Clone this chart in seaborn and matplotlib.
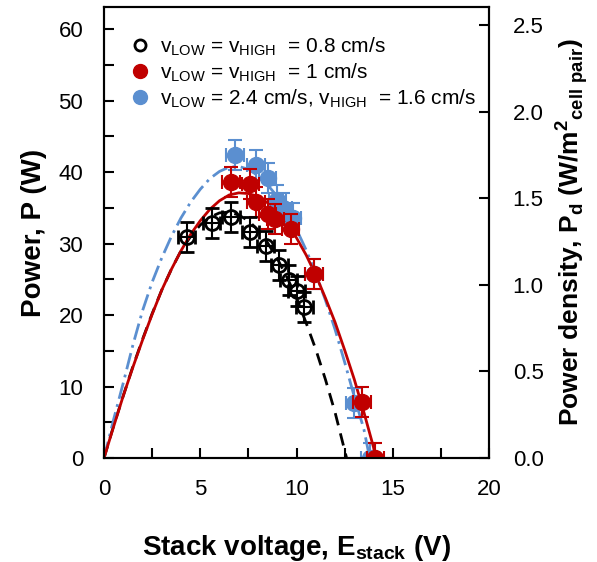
import numpy as np
import pandas as pd
import seaborn as sns
import matplotlib
matplotlib.use("Agg")
from matplotlib import pyplot as plt
from matplotlib.ticker import MultipleLocator, FormatStrFormatter
from matplotlib.lines import Line2D

# measured points (E_stack V, P W)
e_08 = [4.3, 5.6, 6.6, 7.6, 8.4, 9.1, 9.6, 10.0, 10.4]
p_08 = [30.9, 32.9, 33.7, 31.6, 29.6, 27.0, 24.9, 23.4, 21.1]
e_10 = [6.6, 7.6, 7.9, 8.5, 8.9, 9.7, 10.9, 13.4, 14.1]
p_10 = [38.6, 38.4, 35.8, 34.2, 33.4, 32.0, 25.8, 7.8, 0.0]
e_24 = [6.8, 7.9, 8.5, 9.0, 9.3, 9.8, 10.9, 13.0, 13.8]
p_24 = [42.4, 41.0, 39.2, 36.1, 35.0, 33.6, 25.7, 7.7, 0.0]
xerr = 0.45
yerr = 2.1

# fitted curves
fe_08 = [0, 0.5, 1, 1.5, 2, 2.5, 3, 3.5, 4, 4.5, 5, 5.5, 6, 6.5, 7, 7.5, 8,
         8.5, 9, 9.5, 10, 10.5, 11, 11.5, 12, 12.6]
fp_08 = [0, 4.5, 8.7, 12.8, 16.6, 20.2, 23.5, 26.4, 29.0, 31.0, 32.6, 33.7,
         34.3, 34.4, 34.0, 33.2, 31.9, 30.1, 27.9, 25.3, 22.4, 18.9, 15.2,
         11.0, 6.4, 0]
fe_10 = [0, 0.5, 1, 1.5, 2, 2.5, 3, 3.5, 4, 4.5, 5, 5.5, 6, 6.5, 7, 7.5, 8,
         8.5, 9, 9.5, 10, 10.5, 11, 11.5, 12, 12.5, 13, 13.5, 14, 14.1]
fp_10 = [0, 4.4, 8.7, 12.7, 16.5, 20.1, 23.5, 26.4, 29.0, 31.3, 33.2, 34.8,
         36.0, 36.8, 37.1, 37.0, 36.6, 35.7, 34.5, 32.8, 30.8, 28.4, 25.6,
         22.4, 19.0, 15.1, 11.0, 6.4, 1.5, 0]
fe_24 = [0, 0.5, 1, 1.5, 2, 2.5, 3, 3.5, 4, 4.5, 5, 5.5, 6, 6.5, 7, 7.5, 8,
         8.5, 9, 9.5, 10, 10.5, 11, 11.5, 12, 12.5, 13, 13.5, 13.8]
fp_24 = [0, 5.4, 10.5, 15.8, 20.6, 24.6, 28.0, 31.0, 33.6, 35.8, 37.6, 39.1,
         40.1, 40.7, 40.8, 40.4, 39.5, 38.2, 36.6, 34.5, 32.0, 29.1, 25.8,
         22.1, 18.0, 13.4, 8.6, 4.0, 0]

labels = [r"v$_\mathregular{LOW}$ = v$_\mathregular{HIGH}$  = 0.8 cm/s",
          r"v$_\mathregular{LOW}$ = v$_\mathregular{HIGH}$  = 1 cm/s",
          r"v$_\mathregular{LOW}$ = 2.4 cm/s, v$_\mathregular{HIGH}$  = 1.6 cm/s"]
red = "#c00000"
blue = "#5b8fd0"

sns.set_style("ticks")
plt.rcParams["font.family"] = ["Liberation Sans", "DejaVu Sans"]
plt.rcParams["mathtext.fontset"] = "custom"
plt.rcParams["mathtext.rm"] = "Liberation Sans"
plt.rcParams["mathtext.bf"] = "Liberation Sans:bold"
for k in ["text.color", "axes.labelcolor", "xtick.color", "ytick.color", "axes.edgecolor"]:
    plt.rcParams[k] = "black"

fig = plt.figure(figsize=(5.97, 5.62), dpi=100)
ax = fig.add_axes([0.1742, 0.185, 0.645, 0.8025])

curves = pd.concat([
    pd.DataFrame({"E": fe_08, "P": fp_08, "s": "a"}),
    pd.DataFrame({"E": fe_10, "P": fp_10, "s": "b"}),
    pd.DataFrame({"E": fe_24, "P": fp_24, "s": "c"}),
])
for s, col, ls in [("a", "black", (0, (4.5, 3))), ("c", blue, (0, (6, 2, 1, 2))), ("b", red, "-")]:
    d = curves[curves.s == s]
    sns.lineplot(data=d, x="E", y="P", ax=ax, color=col, lw=2, linestyle=ls,
                 estimator=None, sort=False, zorder=3)

ax.errorbar(e_24, p_24, xerr=xerr, yerr=yerr, fmt="o", ms=11.5, color=blue,
            ecolor=blue, elinewidth=1.5, capsize=5, capthick=1.5, zorder=4)
ax.errorbar(e_10, p_10, xerr=xerr, yerr=yerr, fmt="o", ms=11.5, color=red,
            ecolor=red, elinewidth=1.5, capsize=5, capthick=1.5, zorder=5)
ax.errorbar(e_08, p_08, xerr=xerr, yerr=yerr, fmt="o", ms=10, mfc="none",
            mec="black", mew=2, ecolor="black", elinewidth=1.5, capsize=5,
            capthick=1.5, zorder=6)

ax.set_xlim(0, 20)
ax.set_ylim(0, 63.1)
ax.xaxis.set_major_locator(MultipleLocator(5))
ax.xaxis.set_minor_locator(MultipleLocator(2.5))
ax.yaxis.set_major_locator(MultipleLocator(10))
ax.yaxis.set_minor_locator(MultipleLocator(5))
ax.tick_params(which="both", direction="in", width=1.5, length=7, labelsize=16,
               pad=15, right=False, top=False)
for sp in ax.spines.values():
    sp.set_linewidth(1.5)
ax.set_xlabel(r"Stack voltage, E$_\mathbf{stack}$ (V)", fontsize=20,
              fontweight="bold", labelpad=24)
ax.set_ylabel("Power, P (W)", fontsize=20, fontweight="bold", labelpad=8)

ax2 = ax.twinx()
ax2.set_ylim(0, 2.604)
ax2.yaxis.set_major_locator(MultipleLocator(0.5))
ax2.yaxis.set_major_formatter(FormatStrFormatter("%.1f"))
ax2.tick_params(direction="in", length=7, width=1.5, labelsize=16, pad=17)
ax2.set_ylabel(r"Power density, P$_\mathbf{d}$ (W/m$^\mathbf{2}$$_\mathregular{cell\ pair}$)",
               fontsize=19, fontweight="bold", labelpad=7)
for sp in ax2.spines.values():
    sp.set_linewidth(1.5)

handles = [
    Line2D([], [], ls="none", marker="o", ms=8, mfc="none", mec="black", mew=2),
    Line2D([], [], ls="none", marker="o", ms=10, color=red),
    Line2D([], [], ls="none", marker="o", ms=10, color=blue),
]
ax.legend(handles, labels, loc="upper left", bbox_to_anchor=(0.045, 0.955),
          frameon=False, fontsize=15, handletextpad=0.45, labelspacing=0.15,
          handlelength=1.0, borderaxespad=0)

fig.savefig("out.png", dpi=100)
